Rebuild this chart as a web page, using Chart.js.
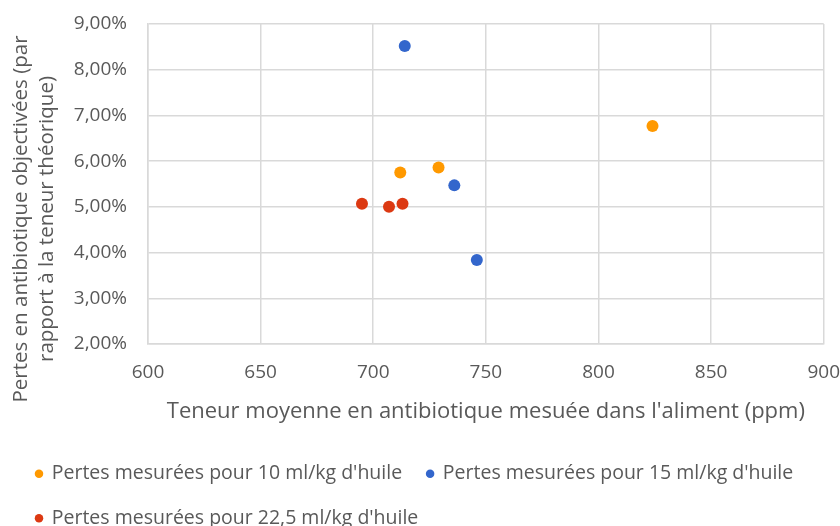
<!DOCTYPE html>
<html>
<head>
<meta charset="utf-8">
<script src="https://cdn.jsdelivr.net/npm/chart.js@4/dist/chart.umd.min.js"></script>
<style>
  html, body { margin: 0; padding: 0; overflow: hidden; background: #fff; }
</style>
</head>
<body>
<canvas id="chart" width="840" height="538"></canvas>
<script>
// Données : teneur mesurée (ppm) et pertes (%) pour chaque dose d'huile
const dose10X = [712, 729, 824];
const dose10Y = [5.75, 5.86, 6.77];
const dose15X = [714, 736, 746];
const dose15Y = [8.52, 5.47, 3.84];
const dose225X = [695, 707, 713];
const dose225Y = [5.07, 5.00, 5.07];

const seriesNames = [
  "Pertes mesurées pour 10 ml/kg d'huile",
  "Pertes mesurées pour 15 ml/kg d'huile",
  "Pertes mesurées pour 22,5 ml/kg d'huile"
];
const xTitle = "Teneur moyenne en antibiotique mesuée dans l'aliment (ppm)";
const yTitle = ["Pertes en antibiotique objectivées (par", "rapport à la teneur théorique)"];

const textColor = '#595959';
const gridColor = '#d9d9d9';

// assemble les couples x/y pour Chart.js
function toPoints(xs, ys) {
  return xs.map((x, i) => ({ x: x, y: ys[i] }));
}

// format français : 5,00%
function percentLabel(v) {
  return v.toFixed(2).replace('.', ',') + '%';
}

Chart.defaults.font.family = "'Open Sans', sans-serif";
Chart.defaults.color = textColor;

// Titre vertical sur deux lignes, centré un peu plus bas que la zone de tracé
const yTitlePlugin = {
  id: 'yTitle',
  afterDraw(chart) {
    const ctx = chart.ctx;
    ctx.save();
    ctx.font = "20.5px 'Open Sans', sans-serif";
    ctx.fillStyle = textColor;
    ctx.textAlign = 'center';
    ctx.textBaseline = 'middle';
    ctx.translate(21, 219);
    ctx.rotate(-Math.PI / 2);
    yTitle.forEach((line, i) => ctx.fillText(line, 0, i * 26));
    ctx.restore();
  }
};

let canvas = document.querySelector('#chart');
let context = canvas.getContext('2d');

const colors = ['#ff9900', '#3366cc', '#dc3912'];
const sets = [toPoints(dose10X, dose10Y), toPoints(dose15X, dose15Y), toPoints(dose225X, dose225Y)];

// l'écart texte/axe passe par des graduations invisibles (sinon Chart.js ajoute la marge au bord du tracé)
const axisGrid = (gap) => ({ color: gridColor, lineWidth: 1.5, drawTicks: true, tickLength: gap, tickColor: 'rgba(0,0,0,0)' });

let chart = new Chart(context, {
  type: 'scatter',
  data: {
    datasets: sets.map((pts, i) => ({
      label: seriesNames[i],
      data: pts,
      backgroundColor: colors[i],
      borderColor: colors[i],
      pointRadius: 6,
      pointHoverRadius: 6,
      borderWidth: 0
    }))
  },
  options: {
    responsive: false,
    animation: false,
    layout: { padding: { left: 11, right: 0, top: 24, bottom: 0 } },
    plugins: {
      tooltip: { enabled: false },
      legend: {
        position: 'bottom',
        align: 'start',
        labels: {
          usePointStyle: true,
          pointStyle: 'circle',
          boxWidth: 6,
          boxHeight: 6,
          padding: 25,
          color: textColor,
          font: { size: 19.5 }
        }
      }
    },
    scales: {
      x: {
        type: 'linear',
        min: 600,
        max: 900,
        ticks: { stepSize: 50, padding: 0, font: { size: 19 }, color: textColor },
        grid: axisGrid(17),
        border: { color: gridColor, width: 1.5 },
        title: {
          display: true,
          text: xTitle,
          color: textColor,
          font: { size: 22 },
          padding: { top: 0, bottom: 14 }
        },
        afterFit(scale) { scale.height = 95; }
      },
      y: {
        min: 2,
        max: 9,
        ticks: { stepSize: 1, padding: 0, font: { size: 19 }, color: textColor, callback: percentLabel },
        grid: axisGrid(21),
        border: { color: gridColor, width: 1.5 },
        afterFit(scale) { scale.width = 137; }
      }
    }
  },
  plugins: [yTitlePlugin]
});
</script>
</body>
</html>
